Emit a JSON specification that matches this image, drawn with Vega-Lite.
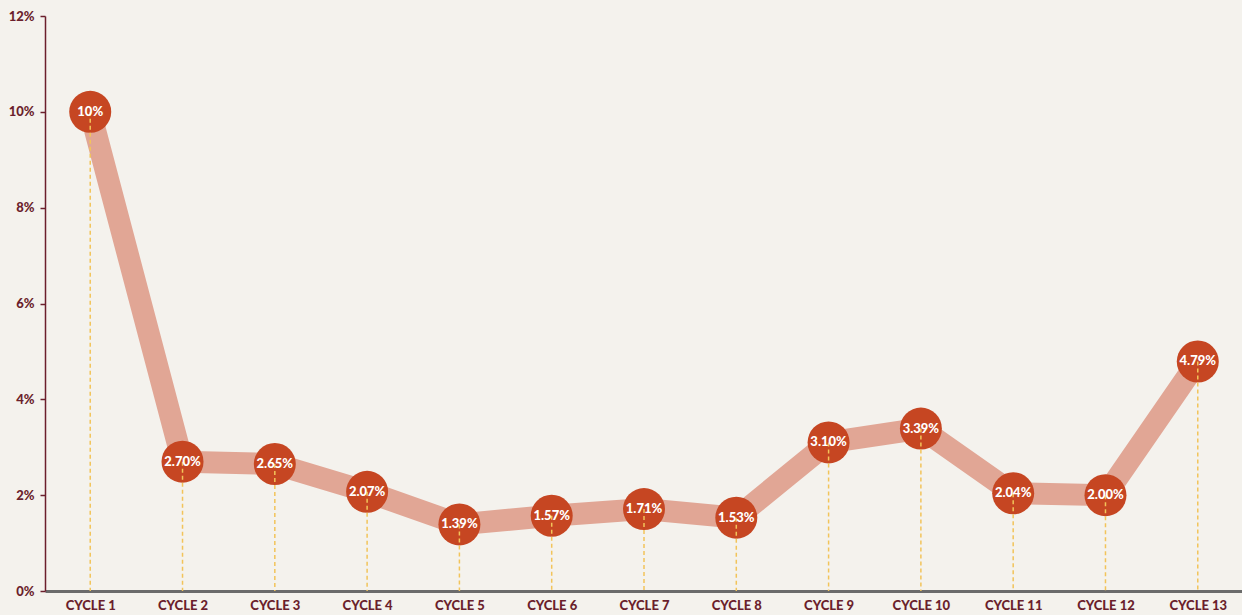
{
  "$schema": "https://vega.github.io/schema/vega-lite/v6.json",
  "width": 1198,
  "height": 575,
  "autosize": {"type": "none"},
  "padding": {"left": 45, "top": 16, "right": 0, "bottom": 24},
  "background": "#f4f2ed",
  "config": {"view": {"stroke": null}, "font": "Lato"},
  "data": {
    "values": [
      {"cycle": "CYCLE 1", "value": 10, "label": "10%"},
      {"cycle": "CYCLE 2", "value": 2.70, "label": "2.70%"},
      {"cycle": "CYCLE 3", "value": 2.65, "label": "2.65%"},
      {"cycle": "CYCLE 4", "value": 2.07, "label": "2.07%"},
      {"cycle": "CYCLE 5", "value": 1.39, "label": "1.39%"},
      {"cycle": "CYCLE 6", "value": 1.57, "label": "1.57%"},
      {"cycle": "CYCLE 7", "value": 1.71, "label": "1.71%"},
      {"cycle": "CYCLE 8", "value": 1.53, "label": "1.53%"},
      {"cycle": "CYCLE 9", "value": 3.10, "label": "3.10%"},
      {"cycle": "CYCLE 10", "value": 3.39, "label": "3.39%"},
      {"cycle": "CYCLE 11", "value": 2.04, "label": "2.04%"},
      {"cycle": "CYCLE 12", "value": 2.00, "label": "2.00%"},
      {"cycle": "CYCLE 13", "value": 4.79, "label": "4.79%"}
    ]
  },
  "encoding": {
    "x": {
      "field": "cycle", "type": "nominal", "sort": null,
      "scale": {"type": "point", "padding": 0.49},
      "axis": {
        "title": null, "labelAngle": 0, "ticks": false,
        "domainColor": "#6b6b6b", "domainWidth": 3,
        "labelColor": "#6b1f2c", "labelFont": "Lato", "labelFontWeight": 900,
        "labelFontSize": 13, "labelPadding": 8
      }
    },
    "y": {
      "field": "value", "type": "quantitative",
      "scale": {"domain": [0, 12]},
      "axis": {
        "title": null, "grid": false, "values": [0, 2, 4, 6, 8, 10, 12],
        "labelExpr": "datum.value + '%'",
        "domainColor": "#6b1f2c", "domainWidth": 1.5,
        "tickColor": "#6b1f2c", "tickSize": 5, "tickWidth": 1.5,
        "labelColor": "#6b1f2c", "labelFont": "Lato", "labelFontWeight": 900,
        "labelFontSize": 13, "labelPadding": 6
      }
    }
  },
  "layer": [
    {"mark": {"type": "line", "color": "#e1a695", "strokeWidth": 22, "strokeJoin": "miter"}},
    {"mark": {"type": "circle", "color": "#c64622", "opacity": 1, "size": 1764}},
    {"mark": {"type": "rule", "color": "#f2c45a", "strokeDash": [4, 3], "strokeWidth": 1.5},
     "encoding": {"y2": {"datum": 0}}},
    {"mark": {"type": "text", "color": "white", "fontWeight": 900, "fontSize": 13, "font": "Lato", "baseline": "middle", "align": "center"},
     "encoding": {"text": {"field": "label"}}}
  ]
}
